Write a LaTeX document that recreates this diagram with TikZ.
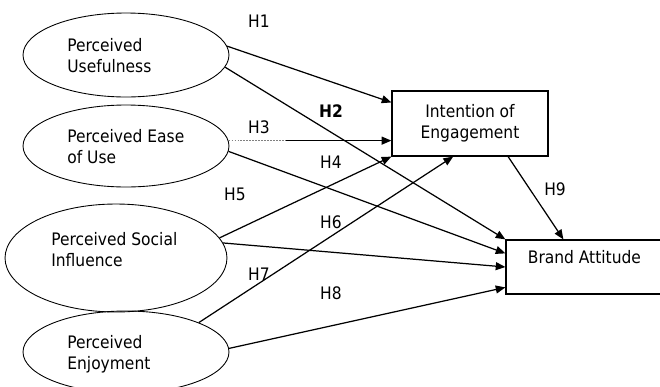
\documentclass[tikz,border=0pt]{standalone}
\usepackage{fontspec}
\setmainfont{DejaVu Sans Condensed}
\usetikzlibrary{shapes.geometric,arrows.meta,calc}

\begin{document}
\begin{tikzpicture}[x=0.02cm,y=-0.02cm,
  construct/.style={draw,ellipse,line width=0.5pt,inner sep=0pt},
  outcome/.style={draw,rectangle,line width=0.7pt,inner sep=0pt},
  lbl/.style={font=\fontsize{9.8}{11.9}\selectfont,inner sep=0pt,align=left},
  hyp/.style={font=\fontsize{9.8}{11.9}\selectfont,inner sep=0pt},
  hpath/.style={line width=0.7pt,-{Triangle[length=5.5pt,width=4.5pt]}}]
\useasboundingbox (0,0) rectangle (660,386);
\clip (0,0) rectangle (660,386);
%constructs
\node[construct,minimum width=4.12cm,minimum height=1.68cm] (pu) at (126,55) {};
\node[construct,minimum width=4.12cm,minimum height=1.64cm] (peou) at (126,146) {};
\node[construct,minimum width=4.44cm,minimum height=2.16cm] (psi) at (116,258) {};
\node[construct,minimum width=4.12cm,minimum height=1.64cm] (pe) at (126,352) {};
\node[lbl,anchor=base west] (putxt) at (67,72) {Perceived\\Usefulness};
\node[lbl,anchor=base west] (peoutxt) at (67,163) {Perceived Ease\\of Use};
\node[lbl,anchor=base west] (psitxt) at (51,266) {Perceived Social\\Influence};
\node[lbl,anchor=base west] (petxt) at (67,369) {Perceived\\Enjoyment};
%outcomes
\node[outcome,lbl,align=center,minimum width=3.12cm,minimum height=1.3cm] (ie) at (470,123.5) {Intention of\\Engagement};
\node[outcome,minimum width=3.3cm,minimum height=1.08cm] (ba) at (588.5,267) {};
\node[lbl,anchor=base] (batxt) at ($(ba.north west)+(79,24)$) {Brand Attitude};
%hypotheses
\draw[hpath] (pu.5) -- (ie.165.3);
\draw[hpath] (pu.-7) -- (ba.north west);
\path (peou.3) -- coordinate[pos=0.35] (h3m) (peou.3 -| ie.west);
\draw[line width=0.7pt,gray,densely dotted] (peou.3) -- (h3m);
\draw[hpath] (h3m) -- (peou.3 -| ie.west);
\draw[hpath] (peou.-3) -- ($(ba.north west)+(0,14)$);
\draw[hpath] (psi.11.6) -- (ie.south west);
\draw[hpath] (psi.8) -- (ba.west);
\draw[hpath] (pe.22) -- (ie.-117.6);
\draw[hpath] (pe.2) -- ($(ba.north west)+(0,48)$);
\draw[hpath] (ie.-41.3) -- ($(ba.north west)+(58,0)$);
\node[hyp] (h1) at (259,21) {H1};
\node[hyp] (h2) at (331,111) {\bfseries H2};
\node[hyp] (h3) at (259,127) {H3};
\node[hyp] (h4) at (331,162) {H4};
\node[hyp] (h5) at (235,194) {H5};
\node[hyp] (h6) at (331,222) {H6};
\node[hyp] (h7) at (259,274) {H7};
\node[hyp] (h8) at (331,293) {H8};
\node[hyp] (h9) at (555,189) {H9};
\end{tikzpicture}
\end{document}
